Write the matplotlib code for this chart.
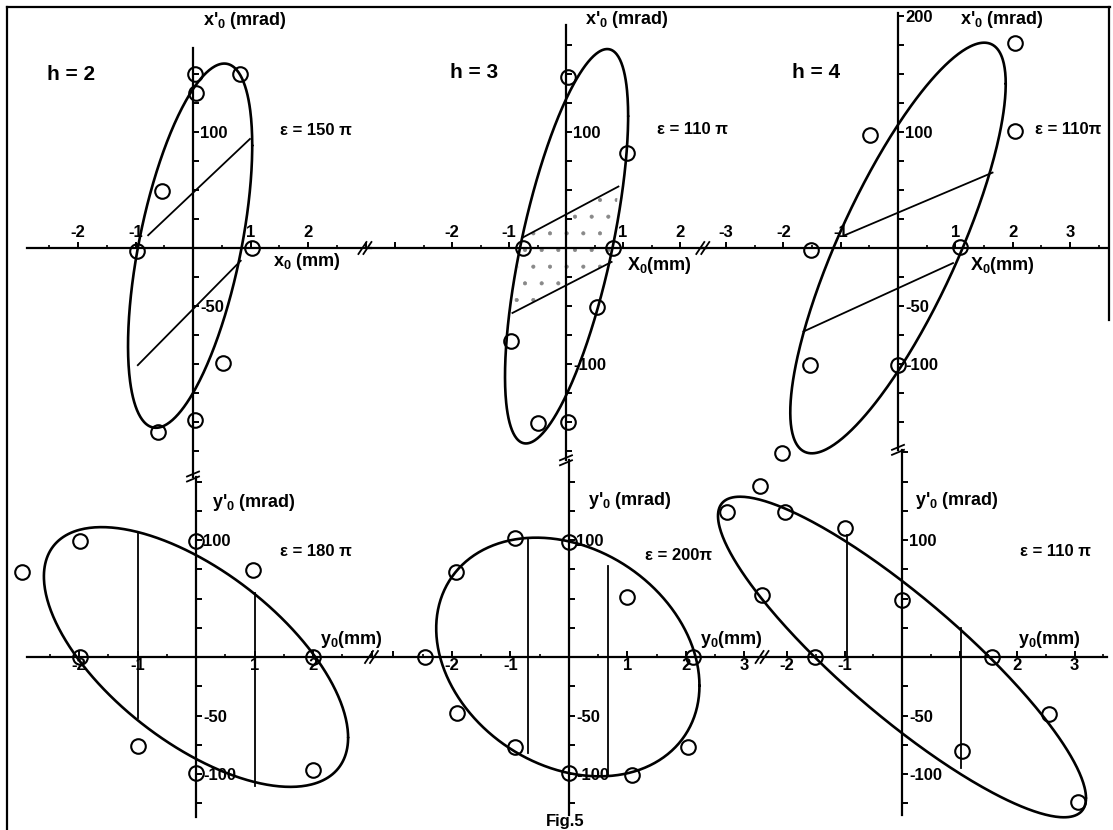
import numpy as np
import matplotlib.pyplot as plt
from matplotlib.lines import Line2D

plt.rcParams['font.family'] = ['Liberation Sans', 'DejaVu Sans']
plt.rcParams['font.weight'] = 'bold'
plt.rcParams['mathtext.fontset'] = 'custom'
plt.rcParams['mathtext.rm'] = 'Liberation Sans:bold'
plt.rcParams['mathtext.bf'] = 'Liberation Sans:bold'
plt.rcParams['mathtext.it'] = 'Liberation Sans:bold'
plt.rcParams['hatch.color'] = '#888888'
plt.rcParams['hatch.linewidth'] = 0.5

W, H = 1113, 830

# ---------------- measured points (mm, mrad) ----------------
# horizontal phase plane x0 / x'0
x_h2 = [0.03, 0.05, 0.82, -0.54, -0.97, 1.03, 0.52, 0.03, -0.61]
xp_h2 = [150, 134, 150, 49, -3, 0, -99, -148, -159]
x_h3 = [0.03, 1.07, -0.76, 0.82, 0.54, -0.96, -0.49, 0.03]
xp_h3 = [147, 82, 0, 0, -51, -80, -151, -150]
x_h4 = [2.05, -0.49, 2.05, -1.51, 1.09, -1.54, 0.0, -2.02]
xp_h4 = [177, 97, 101, -2, 1, -101, -101, -177]

# vertical phase plane y0 / y'0
y_h2 = [-2.97, -1.98, 0.0, 0.97, -1.98, 2.0, -0.99, 0.0, 2.0]
yp_h2 = [73, 99, 99, 74, 0, 0, -76, -99, -97]
y_h3 = [-2.46, -1.93, -0.92, 0.0, 1.0, 2.12, -1.91, -0.92, 0.0, 1.07, 2.03]
yp_h3 = [0, 73, 102, 98, 51, 0, -48, -77, -99, -101, -77]
y_h4 = [-2.47, -3.04, -2.03, -0.99, -2.43, 0.0, -1.51, 1.57, 2.56, 1.04, 3.06]
yp_h4 = [146, 124, 124, 110, 53, 49, 0, 0, -49, -80, -124]

# fitted ellipses: centre x, centre y, half width, half height, cos(phase)
ell_x2 = [-0.05, 2, 1.08, 157, 0.55]
ell_x3 = [0.01, 1.5, 1.08, 170, 0.66]
ell_x4 = [0.0, 0.0, 1.88, 177, 0.80]
ell_y2 = [0.0, 0.0, 2.6, 111, -0.62]
ell_y3 = [-0.02, 0.0, 2.25, 102, -0.24]
ell_y4 = [0.0, 0.0, 3.2, 137, -0.88]

# acceptance cuts (segment end points)
cut_x2 = [[(-0.78, 11), (0.99, 94)], [(0.83, -11), (-0.96, -101)]]
cut_x3 = [[(-0.76, 9), (0.92, 53)], [(0.80, -12), (-0.94, -56)]]
cut_x4 = [[(-0.93, 11), (1.65, 65)], [(0.96, -13), (-1.65, -72)]]
cut_y2 = [[(-1.0, 107), (-1.0, -52)], [(1.0, 55), (1.0, -110)]]
cut_y3 = [[(-0.70, 101), (-0.70, -82)], [(0.66, 78), (0.66, -101)]]
cut_y4 = [[(-0.96, 104), (-0.96, 0)], [(1.03, 25), (1.03, -95)]]

# tick labels shown on each axis
xlab_top = {2: [-2, -1, 1, 2], 3: [-2, -1, 1, 2], 4: [-3, -2, -1, 1, 2, 3]}
ylab_top = {2: [100, -50], 3: [100, -100], 4: [200, 100, -50, -100]}
xlab_bot = {2: [-2, -1, 1, 2], 3: [-2, -1, 1, 2, 3], 4: [-2, -1, 2, 3]}
ylab_bot = {2: [100, -50, -100], 3: [100, -50, -100], 4: [100, -50, -100]}
eps_top = {2: 'ε = 150 π', 3: 'ε = 110 π', 4: 'ε = 110π'}
eps_bot = {2: 'ε = 180 π', 3: 'ε = 200π', 4: 'ε = 110 π'}

fig = plt.figure(figsize=(W / 100, H / 100), dpi=100)


def panel(ox, oy, sx, sy, top, xb, yb, xlabels, ylabels):
    # full-figure axes whose origin sits at pixel (ox, oy)
    ax = fig.add_axes([0, 0, 1, 1])
    ax.patch.set_alpha(0)
    ax.set_xlim(-ox / sx, (W - ox) / sx)
    ax.set_ylim((oy - H) / sy, oy / sy)
    for s in ax.spines.values():
        s.set_visible(False)
    side = 'top' if top else 'bottom'
    for name in (side, 'right'):
        sp = ax.spines[name]
        sp.set_visible(True)
        sp.set_position(('data', 0))
        sp.set_linewidth(1.6)
    ax.spines[side].set_bounds(*xb)
    ax.spines['right'].set_bounds(*yb)
    ax.xaxis.set_ticks_position(side)
    ax.yaxis.set_ticks_position('right')

    xmaj = [v for v in range(-3, 4) if xb[0] < v < xb[1] and v != 0]
    xmin = [v + 0.5 for v in range(-4, 4) if xb[0] < v + 0.5 < xb[1]]
    ax.set_xticks(xmaj, labels=[str(v) if v in xlabels else '' for v in xmaj])
    ax.set_xticks(xmin, minor=True)
    ymaj = [v for v in range(-200, 225, 25) if yb[0] < v < yb[1] and v != 0]
    ax.set_yticks(ymaj, labels=[str(v) if v in ylabels else '' for v in ymaj])
    ax.tick_params(axis='x', which='major', direction='out' if top else 'in',
                   length=4, width=1.4, pad=2 if top else 1, labelsize=12)
    ax.tick_params(axis='x', which='minor', direction='out' if top else 'in',
                   length=2.5, width=1.2)
    ax.tick_params(axis='y', direction='out', length=4, width=1.4, pad=1,
                   labelsize=12)
    ax.sx, ax.sy = sx, sy
    return ax


def ellipse(ax, p):
    xc, yc, a, b, c = p
    t = np.linspace(0, 2 * np.pi, 400)
    phi = np.arccos(c)
    ax.plot(xc + a * np.cos(t), yc + b * np.cos(t - phi), color='k', lw=1.9,
            solid_capstyle='round')


def cuts(ax, segs):
    for (x0, y0), (x1, y1) in segs:
        ax.plot([x0, x1], [y0, y1], color='k', lw=1.3)


def points(ax, xs, ys):
    ax.plot(xs, ys, 'o', ms=10.5, mfc='none', mec='k', mew=1.5)


def xbreak(ax, x):
    dx, dy = 4 / ax.sx, 6 / ax.sy
    for off in (-2.5, 2.5):
        xo = x + off / ax.sx
        ax.plot([xo - dx, xo + dx], [-dy, dy], color='k', lw=1.3)


def ybreak(ax, y):
    dx, dy = 6 / ax.sx, 2.5 / ax.sy
    for off in (-2.5, 2.5):
        yo = y + off / ax.sy
        ax.plot([-dx, dx], [yo - dy, yo + dy], color='k', lw=1.3)


# ---------------- upper row: x0 / x'0 ----------------
top_cfg = [
    (2, 193, 57.5, (-2.89, 3.1), (-197, 172), x_h2, xp_h2, ell_x2, cut_x2, 2.99),
    (3, 566, 57.0, (-3.45, 2.45), (-183, 192), x_h3, xp_h3, ell_x3, cut_x3, 2.4),
    (4, 898, 57.3, (-3.42, 3.67), (-174, 203), x_h4, xp_h4, ell_x4, cut_x4, None),
]
top_txt = {  # h label, eps, x label, y label positions (data units)
    2: ((-2.54, 150), (1.51, 101), (1.39, -12), (0.17, 196)),
    3: ((-2.04, 151), (1.60, 102), (1.07, -15), (0.33, 197)),
    4: ((-1.85, 151), (2.39, 102), (1.26, -15), (1.08, 197)),
}
for h, ox, sx, xb, yb, xs, ys, ell, cut, brk in top_cfg:
    ax = panel(ox, 248, sx, 1.16, True, xb, yb, xlab_top[h], ylab_top[h])
    if h == 3:
        # stippled band between the two cuts
        (a0, a1), (b0, b1) = cut
        ax.fill([a0[0], a1[0], b0[0], b1[0]], [a0[1], a1[1], b0[1], b1[1]],
                facecolor='none', edgecolor='#888888', hatch='.', lw=0)
    ellipse(ax, ell)
    cuts(ax, cut)
    points(ax, xs, ys)
    if brk is not None:
        xbreak(ax, brk)
    ybreak(ax, yb[0])
    hp, ep, xl, yl = top_txt[h]
    ax.text(*hp, f'h = {h}', fontsize=15, va='center')
    ax.text(*ep, eps_top[h], fontsize=12, va='center')
    xname = 'x' if h == 2 else 'X'
    ax.text(*xl, xname + r'$_0$ (mm)' if h == 2 else xname + r'$_0$(mm)',
            fontsize=13, va='center')
    ax.text(*yl, r"x$'_0$ (mrad)", fontsize=13, va='center')

# ---------------- lower row: y0 / y'0 ----------------
bot_cfg = [
    (2, 196, 58.5, (-2.89, 3.05), (-137, 154), y_h2, yp_h2, ell_y2, cut_y2, 3.0),
    (3, 569, 58.5, (-3.35, 3.32), (-135, 168), y_h3, yp_h3, ell_y3, cut_y3, 3.3),
    (4, 902, 57.5, (-2.42, 3.57), (-135, 177), y_h4, yp_h4, ell_y4, cut_y4, None),
]
bot_txt = {
    2: ((1.44, 90), (2.12, 15), (0.27, 132)),
    3: ((1.30, 87), (2.24, 15), (0.32, 134)),
    4: ((2.05, 90), (2.02, 15), (0.23, 134)),
}
for h, ox, sx, xb, yb, xs, ys, ell, cut, brk in bot_cfg:
    ax = panel(ox, 657, sx, 1.17, False, xb, yb, xlab_bot[h], ylab_bot[h])
    ellipse(ax, ell)
    cuts(ax, cut)
    points(ax, xs, ys)
    if brk is not None:
        xbreak(ax, brk)
    ep, xl, yl = bot_txt[h]
    ax.text(*ep, eps_bot[h], fontsize=12, va='center')
    ax.text(*xl, r'y$_0$(mm)', fontsize=13, va='center')
    ax.text(*yl, r"y$'_0$ (mrad)", fontsize=13, va='center')

# frame and caption
for xs, ys in [((7, 7), (7, H)), ((7, 1110), (7, 7)), ((1109, 1109), (7, 320))]:
    fig.add_artist(Line2D([v / W for v in xs], [1 - v / H for v in ys],
                          transform=fig.transFigure, color='k', lw=1.6))
fig.text(565 / W, 1 - 829 / H, 'Fig.5', ha='center', va='bottom', fontsize=12)

fig.savefig('out.png', dpi=100)
